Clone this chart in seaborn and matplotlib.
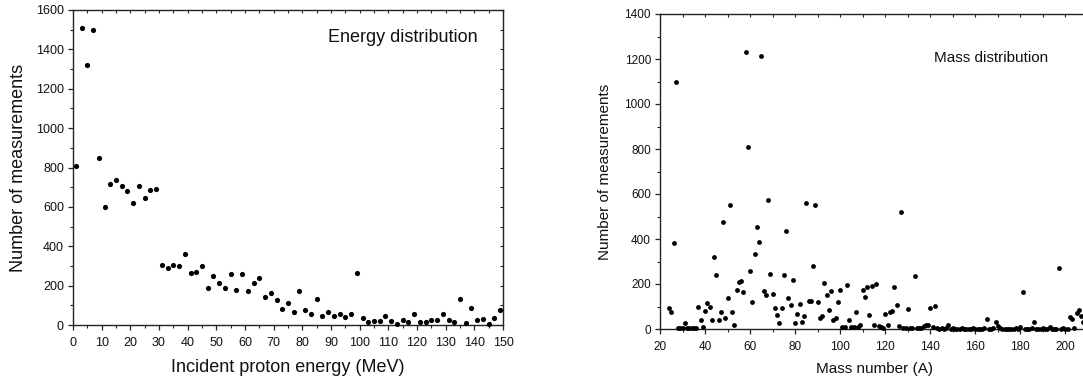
import matplotlib
matplotlib.use("Agg")
import matplotlib.pyplot as plt
import seaborn as sns
import pandas as pd
from matplotlib.ticker import MultipleLocator

# ---------------- data ----------------
energy_mev = [1, 3, 5, 7, 9, 11, 13, 15, 17, 19, 21, 23, 25, 27, 29,
              31, 33, 35, 37, 39, 41, 43, 45, 47, 49, 51, 53, 55, 57, 59,
              61, 63, 65, 67, 69, 71, 73, 75, 77, 79, 81, 83, 85, 87, 89,
              91, 93, 95, 97, 99, 101, 103, 105, 107, 109, 111, 113, 115, 117, 119,
              121, 123, 125, 127, 129, 131, 133, 135, 137, 139, 141, 143, 145, 147, 149]
energy_counts = [810, 1507, 1320, 1500, 847, 597, 714, 735, 706, 682, 618, 706, 645, 686, 691,
                 305, 291, 306, 300, 359, 262, 271, 301, 188, 249, 212, 190, 261, 176, 259,
                 172, 214, 240, 142, 164, 125, 83, 112, 64, 171, 76, 54, 132, 46, 68,
                 46, 54, 42, 56, 264, 34, 14, 19, 19, 47, 22, 5, 24, 14, 54,
                 17, 14, 24, 24, 54, 27, 17, 134, 12, 88, 24, 32, 5, 36, 75]

mass_number = [24, 25, 26, 27, 28, 29, 30, 31, 32, 33, 34, 35, 36, 37, 38, 39,
               40, 41, 42, 43, 44, 45, 46, 47, 48, 49, 50, 51, 52, 53, 54, 55, 56, 57, 58, 59,
               60, 61, 62, 63, 64, 65, 66, 67, 68, 69, 70, 71, 72, 73, 74, 75, 76, 77, 78, 79,
               80, 81, 82, 83, 84, 85, 86, 87, 88, 89, 90, 91, 92, 93, 94, 95, 96, 97, 98, 99,
               100, 101, 102, 103, 104, 105, 106, 107, 108, 109, 110, 111, 112, 113, 114, 115,
               116, 117, 118, 119, 120, 121, 122, 123, 124, 125, 126, 127, 128, 129, 130, 131,
               132, 133, 134, 135, 136, 137, 138, 139, 140, 141, 142, 143, 144, 145, 146, 147,
               148, 149, 150, 151, 152, 153, 154, 155, 156, 157, 158, 159, 160, 161, 162, 163,
               164, 165, 166, 167, 168, 169, 170, 171, 172, 173, 174, 175, 176, 177, 178, 179,
               180, 181, 182, 183, 184, 185, 186, 187, 188, 189, 190, 191, 192, 193, 194, 195,
               196, 197, 198, 199, 200, 201, 202, 203, 204, 205, 206, 207, 208]
mass_counts = [95, 77, 381, 1100, 3, 4, 5, 28, 4, 5, 3, 4, 3, 97, 39, 7,
               80, 114, 96, 38, 321, 238, 41, 76, 476, 50, 136, 553, 76, 19, 175, 209, 215, 163, 1230, 808,
               258, 121, 333, 453, 385, 1215, 170, 150, 572, 243, 154, 93, 62, 28, 95, 241, 434, 136, 105, 219,
               27, 68, 113, 33, 58, 559, 126, 124, 282, 551, 122, 47, 60, 206, 150, 84, 169, 40, 48, 118,
               172, 8, 11, 194, 39, 11, 11, 75, 10, 17, 172, 141, 187, 61, 192, 19,
               199, 14, 8, 5, 68, 18, 74, 81, 187, 105, 15, 518, 4, 3, 91, 3,
               4, 236, 4, 4, 6, 12, 16, 19, 95, 11, 101, 3, 2, 3, 2, 3,
               19, 2, 3, 1, 2, 2, 3, 1, 2, 2, 1, 3, 2, 2, 1, 2,
               3, 43, 2, 1, 3, 32, 14, 3, 2, 1, 2, 2, 1, 2, 3, 2,
               10, 166, 2, 1, 2, 3, 33, 2, 1, 2, 3, 2, 1, 11, 2, 1,
               2, 272, 2, 3, 1, 2, 53, 45, 6, 73, 84, 58, 33]

energy_df = pd.DataFrame({"energy": energy_mev, "count": energy_counts})
mass_df = pd.DataFrame({"mass": mass_number, "count": mass_counts})

# ---------------- style ----------------
sns.set_style("ticks")
plt.rcParams["font.family"] = ["Liberation Sans", "DejaVu Sans"]
spine_col = "#222222"

fig = plt.figure(figsize=(10.83, 3.83), dpi=100)
ax1 = fig.add_axes([73 / 1083, 58 / 383, 430 / 1083, 315 / 383])
ax2 = fig.add_axes([660 / 1083, 54 / 383, 428 / 1083, 315 / 383])

sns.scatterplot(data=energy_df, x="energy", y="count", ax=ax1, color="black",
                s=14, edgecolor="black", linewidth=0, clip_on=False, zorder=5)
sns.scatterplot(data=mass_df, x="mass", y="count", ax=ax2, color="black",
                s=12, edgecolor="black", linewidth=0, clip_on=False, zorder=5)


def style_axes(ax, xlim, ylim, xmaj, xmin, ymaj, ymin, top_step, right_step,
               tick_fs, label_fs, xlabel, ylabel, xlab_y, ylab_x):
    ax.set_xlim(*xlim)
    ax.set_ylim(*ylim)
    ax.xaxis.set_major_locator(MultipleLocator(xmaj))
    ax.xaxis.set_minor_locator(MultipleLocator(xmin))
    ax.yaxis.set_major_locator(MultipleLocator(ymaj))
    ax.yaxis.set_minor_locator(MultipleLocator(ymin))
    for sp in ax.spines.values():
        sp.set_visible(True)
        sp.set_color(spine_col)
        sp.set_linewidth(1.0)
    ax.tick_params(axis="both", which="major", direction="out", length=3.5,
                   width=0.9, color=spine_col, labelsize=tick_fs, labelcolor="#111111")
    ax.tick_params(axis="both", which="minor", direction="out", length=2,
                   width=0.8, color=spine_col)
    ax.tick_params(axis="x", which="major", pad=5)
    ax.tick_params(axis="y", which="major", pad=3)
    ax.set_xlabel(xlabel, fontsize=label_fs, color="#111111")
    ax.set_ylabel(ylabel, fontsize=label_fs, color="#111111")
    ax.xaxis.set_label_coords(0.5, xlab_y)
    ax.yaxis.set_label_coords(ylab_x, 0.5)
    # inward ticks on top and right spines (no labels)
    top = ax.secondary_xaxis("top")
    top.xaxis.set_major_locator(MultipleLocator(top_step))
    top.tick_params(direction="in", length=2, width=0.8, color=spine_col,
                    labeltop=False)
    top.spines["top"].set_visible(False)
    right = ax.secondary_yaxis("right")
    right.yaxis.set_major_locator(MultipleLocator(right_step))
    right.tick_params(direction="in", length=2, width=0.8, color=spine_col,
                      labelright=False)
    right.spines["right"].set_visible(False)


style_axes(ax1, (0, 150), (0, 1600), 10, 5, 200, 100, 5, 100,
           9, 13, "Incident proton energy (MeV)", "Number of measurements",
           -0.108, -0.106)
style_axes(ax2, (20, 210), (0, 1400), 20, 10, 200, 100, 10, 100,
           8.5, 11, "Mass number (A)", "Number of measurements",
           -0.105, -0.111)

ax1.text(0.767, 0.914, "Energy distribution", transform=ax1.transAxes,
         ha="center", va="center", fontsize=13, color="#111111")
ax2.text(0.773, 0.860, "Mass distribution", transform=ax2.transAxes,
         ha="center", va="center", fontsize=11, color="#111111")

fig.savefig("out.png", dpi=100)
